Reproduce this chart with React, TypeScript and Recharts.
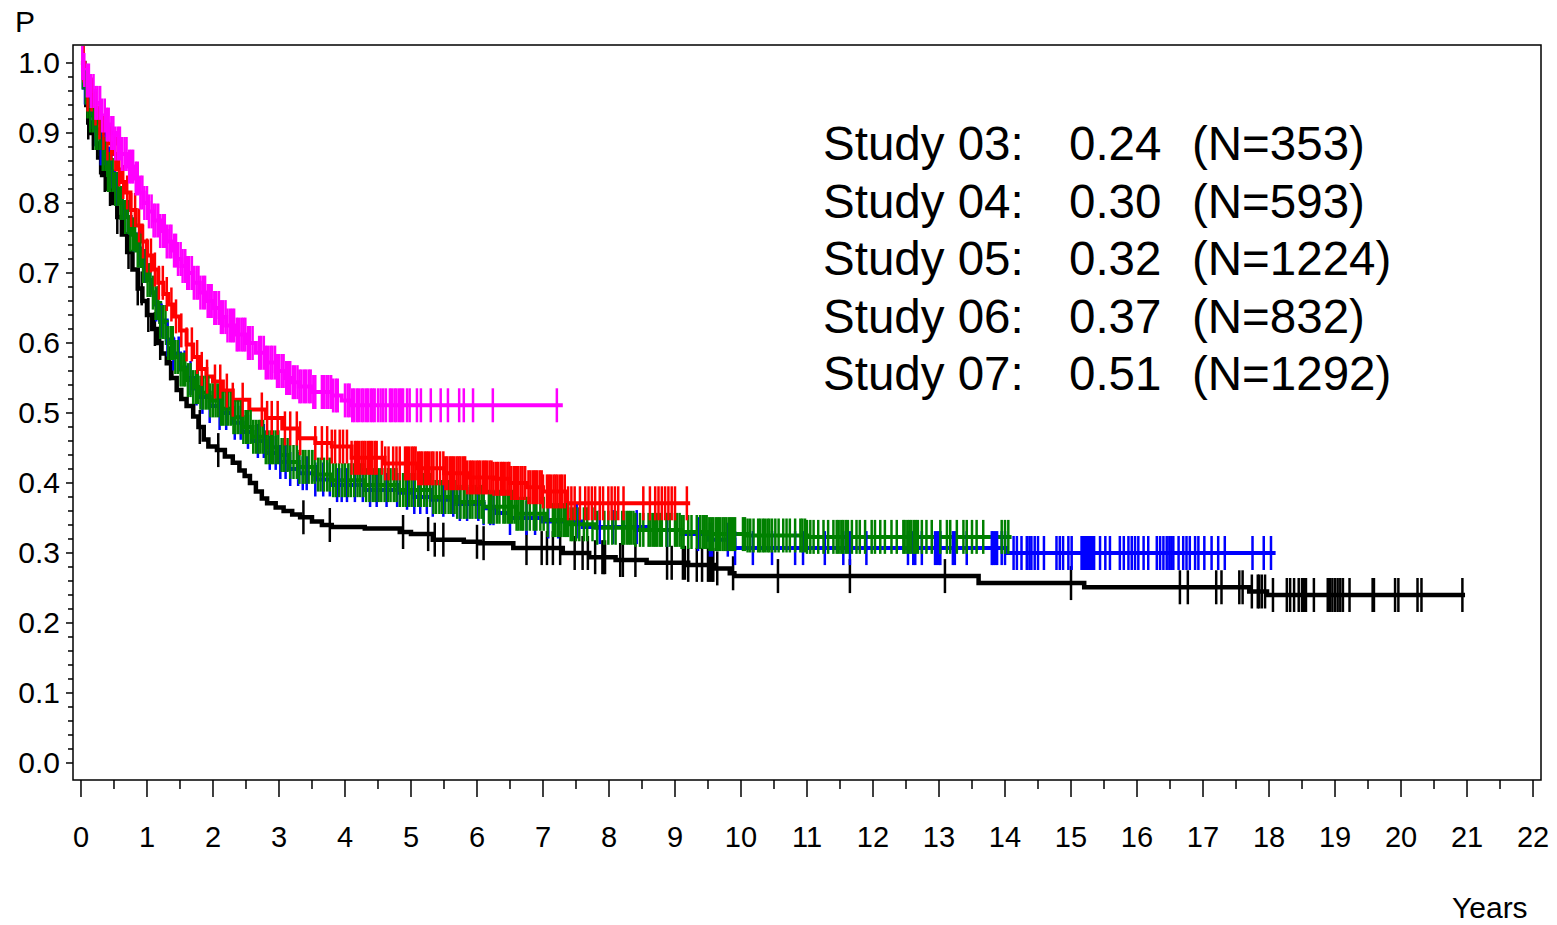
import { ComposedChart, Line, XAxis, YAxis, ReferenceArea } from 'recharts';

type Pt = [number, number];

// Kaplan-Meier step points per study: [years, survival]
const study03Curve: Pt[] = [
  [0, 1.0], [0.05, 0.97], [0.08, 0.94], [0.11, 0.915], [0.15, 0.9], [0.2, 0.885], [0.26, 0.865],
  [0.32, 0.84], [0.4, 0.82], [0.48, 0.8], [0.55, 0.78], [0.62, 0.755], [0.7, 0.73], [0.78, 0.705],
  [0.86, 0.678], [0.93, 0.66], [1.0, 0.64], [1.08, 0.62], [1.15, 0.6], [1.22, 0.585], [1.3, 0.571],
  [1.37, 0.55], [1.45, 0.533], [1.52, 0.52], [1.6, 0.51], [1.7, 0.495], [1.78, 0.48], [1.86, 0.462],
  [1.93, 0.452], [2.06, 0.447], [2.18, 0.438], [2.3, 0.429], [2.4, 0.418], [2.48, 0.41], [2.56, 0.4],
  [2.65, 0.388], [2.74, 0.378], [2.82, 0.371], [2.95, 0.365], [3.07, 0.36], [3.2, 0.355], [3.32, 0.351],
  [3.5, 0.345], [3.65, 0.34], [3.8, 0.337], [4.3, 0.335], [4.83, 0.33], [5.0, 0.327], [5.33, 0.319],
  [5.8, 0.316], [6.05, 0.314], [6.55, 0.307], [7.3, 0.3], [7.7, 0.294], [8.1, 0.29], [8.57, 0.286],
  [9.2, 0.283], [9.6, 0.278], [9.83, 0.271], [9.9, 0.267], [13.6, 0.257], [15.2, 0.251], [17.7, 0.245],
  [17.97, 0.24], [20.97, 0.24],
];

const study04Curve: Pt[] = [
  [0, 1.0], [0.04, 0.965], [0.08, 0.945], [0.12, 0.93], [0.21, 0.905], [0.3, 0.878], [0.41, 0.845],
  [0.5, 0.82], [0.58, 0.8], [0.67, 0.78], [0.75, 0.755], [0.83, 0.735], [0.92, 0.71], [1.0, 0.69],
  [1.06, 0.672], [1.12, 0.655], [1.2, 0.632], [1.3, 0.605], [1.4, 0.585], [1.5, 0.565], [1.6, 0.55],
  [1.7, 0.535], [1.8, 0.523], [1.95, 0.51], [2.1, 0.5], [2.3, 0.486], [2.45, 0.473], [2.6, 0.46],
  [2.8, 0.443], [3.0, 0.43], [3.15, 0.42], [3.3, 0.414], [3.55, 0.405], [3.8, 0.397], [4.3, 0.39],
  [4.8, 0.386], [5.05, 0.38], [5.3, 0.376], [5.7, 0.37], [6.1, 0.364], [6.3, 0.357], [6.5, 0.35],
  [7.0, 0.345], [7.6, 0.337], [8.6, 0.333], [9.1, 0.327], [9.5, 0.319], [9.9, 0.307], [14.03, 0.3],
  [18.1, 0.3],
];

const study05Curve: Pt[] = [
  [0, 1.0], [0.04, 0.965], [0.08, 0.945], [0.12, 0.925], [0.21, 0.9], [0.3, 0.87], [0.41, 0.84],
  [0.5, 0.82], [0.58, 0.8], [0.67, 0.78], [0.75, 0.755], [0.83, 0.732], [0.92, 0.71], [1.0, 0.69],
  [1.06, 0.672], [1.12, 0.657], [1.2, 0.63], [1.3, 0.6], [1.4, 0.58], [1.5, 0.562], [1.6, 0.547],
  [1.7, 0.537], [1.8, 0.529], [1.95, 0.518], [2.1, 0.506], [2.3, 0.494], [2.45, 0.48], [2.6, 0.466],
  [2.8, 0.451], [3.0, 0.44], [3.15, 0.43], [3.3, 0.423], [3.55, 0.412], [3.8, 0.404], [4.3, 0.397],
  [4.8, 0.39], [5.3, 0.38], [5.7, 0.373], [6.1, 0.366], [6.6, 0.356], [7.06, 0.347], [7.4, 0.341],
  [7.8, 0.336], [8.4, 0.333], [9.1, 0.33], [9.5, 0.327], [10.1, 0.325], [11.0, 0.323], [14.1, 0.323],
];

const study06Curve: Pt[] = [
  [0, 1.0], [0.05, 0.975], [0.1, 0.955], [0.17, 0.935], [0.25, 0.915], [0.33, 0.9], [0.4, 0.885],
  [0.47, 0.87], [0.55, 0.848], [0.62, 0.83], [0.67, 0.815], [0.75, 0.79], [0.83, 0.768], [0.92, 0.745],
  [1.0, 0.725], [1.08, 0.705], [1.17, 0.686], [1.25, 0.67], [1.32, 0.655], [1.4, 0.638], [1.5, 0.618],
  [1.6, 0.598], [1.7, 0.58], [1.8, 0.563], [1.9, 0.552], [2.0, 0.545], [2.15, 0.532], [2.3, 0.519],
  [2.55, 0.505], [2.8, 0.493], [3.05, 0.478], [3.3, 0.464], [3.55, 0.457], [3.8, 0.452], [4.1, 0.436],
  [4.6, 0.428], [5.1, 0.421], [5.5, 0.414], [5.85, 0.408], [6.25, 0.406], [6.5, 0.4], [6.75, 0.394],
  [7.0, 0.388], [7.36, 0.371], [9.23, 0.371],
];

const study07Curve: Pt[] = [
  [0, 1.0], [0.03, 0.99], [0.08, 0.975], [0.15, 0.96], [0.22, 0.943], [0.3, 0.925], [0.37, 0.912],
  [0.44, 0.9], [0.52, 0.885], [0.6, 0.87], [0.7, 0.852], [0.8, 0.835], [0.88, 0.815], [0.95, 0.8],
  [1.02, 0.788], [1.1, 0.775], [1.2, 0.76], [1.3, 0.745], [1.38, 0.732], [1.45, 0.72], [1.52, 0.71],
  [1.6, 0.7], [1.7, 0.686], [1.8, 0.672], [1.9, 0.66], [2.0, 0.65], [2.1, 0.637], [2.2, 0.625],
  [2.35, 0.612], [2.5, 0.6], [2.65, 0.586], [2.8, 0.572], [2.95, 0.56], [3.1, 0.55], [3.2, 0.544],
  [3.3, 0.538], [3.5, 0.53], [3.8, 0.525], [3.95, 0.518], [4.1, 0.511], [7.3, 0.511],
];

// censoring times (years)
const study03Censor = [
  0.11, 0.18, 0.29, 0.36, 0.44, 0.55, 0.72, 0.86, 0.92, 1.02, 1.12, 1.2, 1.35, 1.8, 2.08, 3.37, 3.77,
  4.88, 5.26, 5.36, 5.49, 6.0, 6.1, 6.75, 6.98, 7.06, 7.15, 7.26, 7.48, 7.6, 7.68, 7.79, 7.9, 7.92,
  7.94, 8.17, 8.21, 8.4, 8.88, 8.95, 9.12, 9.15, 9.2, 9.33, 9.41, 9.5, 9.53, 9.56, 9.58, 9.64, 9.88,
  10.56, 11.65, 13.09, 15.0, 16.65, 16.77, 17.2, 17.28, 17.55, 17.6, 17.74, 17.83, 17.85, 17.89, 17.94,
  18.06, 18.27, 18.32, 18.38, 18.45, 18.5, 18.53, 18.56, 18.68, 18.89, 18.92, 18.96, 19.0, 19.04,
  19.08, 19.12, 19.22, 19.57, 19.59, 19.91, 19.96, 20.25, 20.31, 20.93,
];

const study04Censor = [
  0.06, 0.14, 0.22, 0.3, 0.37, 0.46, 0.55, 0.63, 0.71, 0.8, 0.88, 0.97, 1.05, 1.14, 1.22, 1.31, 1.4,
  1.48, 1.57, 1.66, 1.75, 1.84, 1.95, 2.1, 2.2, 2.33, 2.42, 2.53, 2.68, 2.77, 2.86, 2.95, 3.02, 3.1,
  3.17, 3.29, 3.36, 3.42, 3.55, 3.67, 3.77, 3.88, 3.95, 4.03, 4.15, 4.27, 4.38, 4.48, 4.63, 4.79, 4.94,
  5.05, 5.14, 5.24, 5.33, 5.49, 5.64, 5.74, 5.85, 6.02, 6.1, 6.2, 6.25, 6.5, 6.75, 6.88, 7.08, 7.23,
  7.51, 7.86, 8.06, 8.42, 8.88, 9.35, 9.53, 9.56, 9.8, 9.91, 10.18, 10.47, 10.82, 10.94, 11.27, 11.55,
  11.65, 11.9, 12.53, 12.61, 12.64, 12.74, 12.94, 12.97, 13.0, 13.02, 13.21, 13.24, 13.42, 13.8,
  13.82, 13.85, 13.88, 13.95, 14.0, 14.13, 14.18, 14.25, 14.33, 14.37, 14.4, 14.45, 14.5, 14.59,
  14.78, 14.83, 14.88, 14.96, 15.01, 15.16, 15.18, 15.2, 15.22, 15.24, 15.27, 15.29, 15.31, 15.33,
  15.35, 15.44, 15.52, 15.59, 15.74, 15.8, 15.87, 15.92, 15.97, 16.02, 16.1, 16.17, 16.3, 16.35, 16.4,
  16.45, 16.49, 16.52, 16.55, 16.63, 16.7, 16.75, 16.8, 16.88, 16.93, 17.02, 17.13, 17.23, 17.33,
  17.75, 17.92, 18.03,
];

const study05Censor = [
  0.03, 0.07, 0.1, 0.14, 0.18, 0.22, 0.25, 0.29, 0.33, 0.37, 0.41, 0.44, 0.48, 0.52, 0.56, 0.6, 0.63,
  0.67, 0.71, 0.75, 0.79, 0.82, 0.86, 0.9, 0.94, 0.98, 1.01, 1.05, 1.09, 1.13, 1.17, 1.2, 1.24, 1.28,
  1.32, 1.36, 1.39, 1.43, 1.47, 1.51, 1.55, 1.58, 1.62, 1.66, 1.7, 1.74, 1.77, 1.81, 1.85, 1.89, 1.93,
  1.96, 2.0, 2.04, 2.08, 2.12, 2.15, 2.19, 2.23, 2.27, 2.31, 2.34, 2.38, 2.42, 2.46, 2.5, 2.53, 2.57,
  2.61, 2.65, 2.69, 2.72, 2.76, 2.8, 2.84, 2.88, 2.91, 2.95, 2.99, 3.04, 3.08, 3.13, 3.17, 3.22, 3.27,
  3.31, 3.36, 3.4, 3.45, 3.5, 3.54, 3.59, 3.63, 3.68, 3.73, 3.77, 3.82, 3.86, 3.91, 3.96, 4.0, 4.05,
  4.09, 4.14, 4.19, 4.23, 4.28, 4.32, 4.37, 4.42, 4.46, 4.51, 4.55, 4.6, 4.65, 4.69, 4.74, 4.78, 4.83,
  4.88, 4.92, 4.97, 5.01, 5.06, 5.11, 5.15, 5.2, 5.24, 5.29, 5.34, 5.38, 5.43, 5.47, 5.52, 5.57, 5.61,
  5.66, 5.7, 5.75, 5.8, 5.84, 5.89, 5.93, 5.98, 6.03, 6.07, 6.1, 6.18, 6.21, 6.25, 6.3, 6.34, 6.4,
  6.43, 6.47, 6.5, 6.53, 6.57, 6.6, 6.63, 6.67, 6.7, 6.75, 6.8, 6.86, 6.9, 6.96, 7.01, 7.07, 7.15,
  7.18, 7.22, 7.25, 7.28, 7.32, 7.35, 7.38, 7.42, 7.45, 7.5, 7.55, 7.62, 7.67, 7.75, 7.82, 7.93, 7.99,
  8.05, 8.1, 8.2, 8.23, 8.27, 8.3, 8.33, 8.37, 8.4, 8.47, 8.52, 8.6, 8.63, 8.67, 8.7, 8.73, 8.77, 8.8,
  8.87, 8.92, 9.0, 9.03, 9.07, 9.1, 9.13, 9.2, 9.25, 9.33, 9.38, 9.42, 9.45, 9.48, 9.52, 9.55, 9.58,
  9.62, 9.65, 9.68, 9.72, 9.75, 9.78, 9.82, 9.85, 9.88, 9.91, 10.03, 10.06, 10.1, 10.14, 10.19, 10.26,
  10.29, 10.33, 10.36, 10.4, 10.43, 10.47, 10.52, 10.57, 10.64, 10.69, 10.74, 10.82, 10.9, 10.93,
  10.97, 11.0, 11.05, 11.1, 11.17, 11.25, 11.32, 11.4, 11.45, 11.48, 11.52, 11.55, 11.59, 11.62,
  11.68, 11.75, 11.8, 11.88, 11.98, 12.03, 12.11, 12.18, 12.28, 12.36, 12.46, 12.48, 12.52, 12.55,
  12.58, 12.62, 12.65, 12.68, 12.74, 12.81, 12.89, 13.02, 13.12, 13.17, 13.27, 13.37, 13.42, 13.5,
  13.57, 13.67, 13.95, 14.0, 14.05,
];

const study06Censor = [
  0.04, 0.1, 0.16, 0.22, 0.28, 0.34, 0.4, 0.46, 0.52, 0.58, 0.64, 0.7, 0.76, 0.82, 0.88, 0.94, 1.0,
  1.06, 1.12, 1.18, 1.24, 1.3, 1.37, 1.44, 1.52, 1.6, 1.68, 1.76, 1.83, 1.91, 2.03, 2.11, 2.21, 2.3,
  2.45, 2.74, 2.82, 2.89, 2.98, 3.09, 3.17, 3.27, 3.32, 3.55, 3.65, 3.73, 3.8, 3.85, 3.92, 3.97, 4.03,
  4.1, 4.15, 4.18, 4.21, 4.25, 4.28, 4.31, 4.35, 4.38, 4.41, 4.45, 4.48, 4.56, 4.61, 4.66, 4.73, 4.78,
  4.83, 4.91, 4.94, 4.97, 5.01, 5.04, 5.07, 5.11, 5.14, 5.17, 5.21, 5.24, 5.27, 5.31, 5.34, 5.39,
  5.44, 5.49, 5.52, 5.55, 5.59, 5.62, 5.65, 5.69, 5.72, 5.75, 5.79, 5.82, 5.85, 5.89, 5.92, 5.95,
  5.99, 6.02, 6.05, 6.09, 6.12, 6.15, 6.19, 6.22, 6.25, 6.29, 6.32, 6.36, 6.39, 6.42, 6.46, 6.49,
  6.52, 6.56, 6.59, 6.62, 6.66, 6.69, 6.73, 6.78, 6.81, 6.85, 6.88, 6.91, 6.95, 6.98, 7.0, 7.06, 7.09,
  7.12, 7.16, 7.19, 7.22, 7.26, 7.29, 7.33, 7.38, 7.43, 7.48, 7.56, 7.64, 7.69, 7.74, 7.79, 7.86,
  7.91, 7.99, 8.04, 8.09, 8.14, 8.22, 8.52, 8.62, 8.7, 8.75, 8.8, 8.85, 8.9, 8.95, 9.0, 9.18,
];

const study07Censor = [
  0.02, 0.05, 0.09, 0.12, 0.15, 0.19, 0.22, 0.25, 0.29, 0.32, 0.36, 0.39, 0.42, 0.46, 0.49, 0.52,
  0.56, 0.59, 0.62, 0.66, 0.69, 0.73, 0.76, 0.79, 0.83, 0.86, 0.9, 0.93, 0.96, 1.0, 1.03, 1.07, 1.1,
  1.13, 1.17, 1.2, 1.24, 1.27, 1.3, 1.34, 1.37, 1.41, 1.44, 1.47, 1.51, 1.54, 1.58, 1.61, 1.64, 1.68,
  1.71, 1.75, 1.78, 1.81, 1.85, 1.88, 1.92, 1.95, 1.98, 2.02, 2.05, 2.09, 2.12, 2.15, 2.19, 2.22,
  2.26, 2.29, 2.32, 2.36, 2.39, 2.43, 2.46, 2.49, 2.53, 2.56, 2.6, 2.7, 2.73, 2.77, 2.8, 2.83, 2.87,
  2.9, 2.94, 2.97, 3.0, 3.04, 3.07, 3.11, 3.14, 3.17, 3.21, 3.24, 3.28, 3.31, 3.34, 3.38, 3.41, 3.45,
  3.48, 3.52, 3.55, 3.65, 3.68, 3.72, 3.75, 3.79, 3.82, 3.86, 3.89, 4.0, 4.04, 4.07, 4.11, 4.14, 4.18,
  4.21, 4.25, 4.28, 4.32, 4.35, 4.39, 4.42, 4.45, 4.5, 4.54, 4.58, 4.62, 4.68, 4.71, 4.75, 4.78, 4.82,
  4.85, 4.88, 4.94, 4.98, 5.09, 5.15, 5.3, 5.45, 5.56, 5.73, 5.8, 5.94, 6.24, 7.21,
];

const studyColors = ['#000000', '#0000ff', '#008000', '#ff0000', '#ff00ff'];
const lineWidths = [4.5, 4, 4, 4, 4];

// text block in the upper right
const legendNames = ['Study 03:', 'Study 04:', 'Study 05:', 'Study 06:', 'Study 07:'];
const legendRates = ['0.24', '0.30', '0.32', '0.37', '0.51'];
const legendCounts = ['(N=353)', '(N=593)', '(N=1224)', '(N=832)', '(N=1292)'];

const xMajorTicks = [0, 1, 2, 3, 4, 5, 6, 7, 8, 9, 10, 11, 12, 13, 14, 15, 16, 17, 18, 19, 20, 21, 22];
const yMajorTicks = [0, 0.1, 0.2, 0.3, 0.4, 0.5, 0.6, 0.7, 0.8, 0.9, 1.0];

const xTicks = xMajorTicks.flatMap((v) => (v < 22 ? [v, v + 0.5] : [v]));
const yTicks = yMajorTicks.flatMap((v) => (v < 1 ? [v, v + 0.02, v + 0.04, v + 0.06, v + 0.08] : [v]));

// plot frame reaches a little past the labelled range
const X_MIN = -0.121;
const X_MAX = 22.121;
const Y_MIN = -0.0243;
const Y_MAX = 1.0257;

const FONT = '"Liberation Sans", Arial, sans-serif';

function survivalAt(curve: Pt[], t: number) {
  let s = curve[0][1];
  for (const [ct, cs] of curve) {
    if (ct <= t) s = cs;
    else break;
  }
  return s;
}

// merge step points and censor marks into one row set per study
function buildRows(curve: Pt[], censor: number[]) {
  const rows = curve.map(([t, s]) => ({ t, s, c: false }));
  censor.forEach((t) => rows.push({ t, s: survivalAt(curve, t), c: true }));
  rows.sort((a, b) => a.t - b.t || (a.c ? 1 : 0) - (b.c ? 1 : 0));
  return rows;
}

const series = [
  buildRows(study03Curve, study03Censor),
  buildRows(study04Curve, study04Censor),
  buildRows(study05Curve, study05Censor),
  buildRows(study06Curve, study06Censor),
  buildRows(study07Curve, study07Censor),
];

const censorMark = (color: string) => (props: any) => {
  const { cx, cy, payload, index } = props;
  if (!payload || !payload.c || cx == null || cy == null) return <g key={`n-${index}`} />;
  return (
    <line key={`c-${index}`} x1={cx} x2={cx} y1={cy - 17} y2={cy + 17} stroke={color} strokeWidth={2.5} />
  );
};

const XTick = (props: any) => {
  const { x, y, payload } = props;
  const v = payload.value;
  const major = Number.isInteger(v);
  return (
    <g>
      <line x1={x} x2={x} y1={y} y2={y + (major ? 17 : 9)} stroke="#000" strokeWidth={1.5} />
      {major && (
        <text x={x} y={y + 67} textAnchor="middle" fontFamily={FONT} fontSize={29} fill="#000">
          {v}
        </text>
      )}
    </g>
  );
};

const YTick = (props: any) => {
  const { x, y, payload } = props;
  const v = payload.value;
  const major = Math.abs(v * 10 - Math.round(v * 10)) < 1e-6;
  return (
    <g>
      <line x1={x - (major ? 7 : 5)} x2={x} y1={y} y2={y} stroke="#000" strokeWidth={1.5} />
      {major && (
        <text x={x - 13} y={y + 10.5} textAnchor="end" fontFamily={FONT} fontSize={30} fill="#000">
          {v.toFixed(1)}
        </text>
      )}
    </g>
  );
};

const textStyle = (left: number, top: number, size: number): React.CSSProperties => ({
  position: 'absolute',
  left,
  top,
  fontFamily: FONT,
  fontSize: size,
  lineHeight: `${size}px`,
  whiteSpace: 'nowrap',
  color: '#000',
});

export default function App() {
  // row tops for a 47.5px font with line-height equal to the font size
  const rowTop = [112, 170, 227, 285, 342];
  return (
    <div style={{ position: 'relative', width: 1549, height: 917 }}>
      <ComposedChart width={1549} height={917} margin={{ top: 37, right: 16, bottom: 0, left: 0 }}>
        <XAxis
          type="number"
          dataKey="t"
          domain={[X_MIN, X_MAX]}
          allowDataOverflow
          ticks={xTicks}
          interval={0}
          height={145}
          axisLine={false}
          tickLine={false}
          tickSize={0}
          tickMargin={0}
          tick={(p: any) => <XTick {...p} />}
        />
        <YAxis
          type="number"
          domain={[Y_MIN, Y_MAX]}
          allowDataOverflow
          ticks={yTicks}
          interval={0}
          width={65}
          axisLine={false}
          tickLine={false}
          tickSize={0}
          tickMargin={0}
          tick={(p: any) => <YTick {...p} />}
        />
        <ReferenceArea
          x1={X_MIN}
          x2={X_MAX}
          y1={Y_MIN}
          y2={Y_MAX}
          fill="none"
          fillOpacity={0}
          stroke="#000"
          strokeWidth={1.5}
          ifOverflow="visible"
        />
        {series.map((rows, i) => (
          <Line
            key={legendNames[i]}
            data={rows}
            dataKey="s"
            type="stepAfter"
            stroke={studyColors[i]}
            strokeWidth={lineWidths[i]}
            dot={censorMark(studyColors[i])}
            activeDot={false}
            isAnimationActive={false}
          />
        ))}
      </ComposedChart>
      <div style={textStyle(7, -1, 30)}>P</div>
      <div style={textStyle(1444, 885, 30)}>Years</div>
      {legendNames.map((name, i) => (
        <div key={name}>
          <div style={textStyle(815, rowTop[i], 47.5)}>{name}</div>
          <div style={textStyle(1061, rowTop[i], 47.5)}>{legendRates[i]}</div>
          <div style={textStyle(1184, rowTop[i], 47.5)}>{legendCounts[i]}</div>
        </div>
      ))}
    </div>
  );
}
